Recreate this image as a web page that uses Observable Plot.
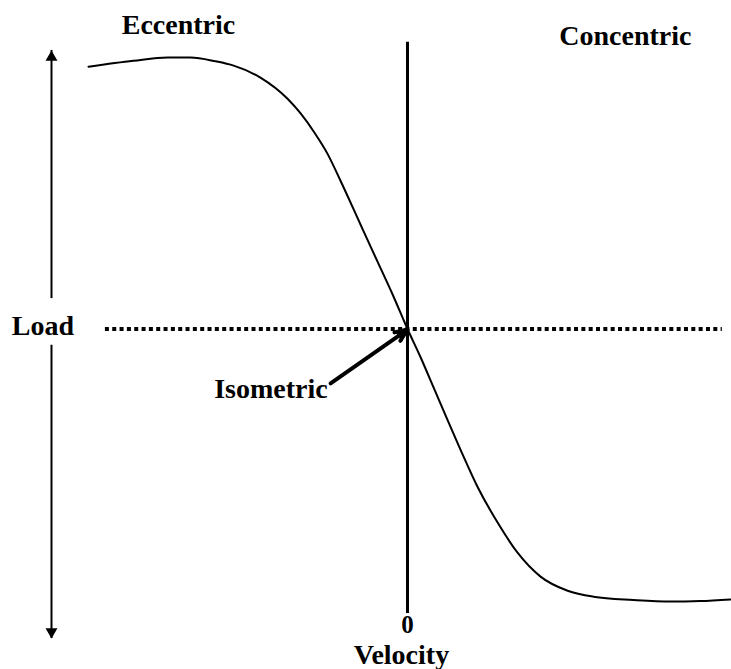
<!DOCTYPE html>
<html>
<head>
<meta charset="utf-8">
<script src="https://cdn.jsdelivr.net/npm/d3@7"></script>
<script src="https://cdn.jsdelivr.net/npm/@observablehq/plot@0.6"></script>
<style>
  html, body { margin: 0; padding: 0; background: #fff; }
  #chart svg { display: block; }
</style>
</head>
<body>
<div id="chart"></div>
<script>
// Force–velocity relationship (velocity: negative = eccentric, positive = concentric)
const velocity = [-1.000, -0.859, -0.752, -0.680, -0.602, -0.545, -0.461, -0.376, -0.335, -0.292,
                  -0.251, -0.210, -0.147, -0.094, -0.047, 0.000, 0.041, 0.082, 0.125, 0.166,
                  0.219, 0.282, 0.345, 0.417, 0.502, 0.583, 0.708, 0.824, 0.918, 1.013];
const load =     [0.983, 0.994, 1.000, 1.000, 0.993, 0.985, 0.963, 0.924, 0.897, 0.862,
                  0.823, 0.773, 0.692, 0.624, 0.564, 0.500, 0.448, 0.392, 0.333, 0.278,
                  0.210, 0.144, 0.088, 0.044, 0.018, 0.007, 0.001, -0.002, -0.001, 0.002];

const isometricLoad = 0.5;
const zeroVelocity = 0;
const phaseLabels = ["Eccentric", "Concentric"];
const phaseLabelV = [-0.718, 0.683];
const phaseLabelL = [1.059, 1.039];
const loadAxisV = -1.116;
const loadAxisTop = 1.013, loadAxisBottom = -0.070;
const loadAxisGap = [0.556, 0.470];
const isoPointer = {x1: -0.241, y1: 0.400, x2: 0, y2: 0.499};

const curve = velocity.map((v, i) => ({v, L: load[i]}));
const phases = phaseLabels.map((t, i) => ({t, v: phaseLabelV[i], L: phaseLabelL[i]}));

const font = "Liberation Serif, Times New Roman, serif";
const textStyle = {fontSize: 28, fontWeight: "bold", fill: "black", textAnchor: "middle"};

const chart = Plot.plot({
  width: 731,
  height: 669,
  margin: 0,
  x: {domain: [-1, 1], range: [88, 726], axis: null},
  y: {domain: [0, 1], range: [600, 57], axis: null},
  style: {fontFamily: font, background: "white"},
  marks: [
    // dotted isometric load line
    Plot.ruleY([isometricLoad], {x1: -0.947, x2: 0.987, stroke: "black", strokeWidth: 4, strokeDasharray: "4,3.33"}),
    // zero velocity line
    Plot.ruleX([zeroVelocity], {y1: 1.028, y2: -0.024, stroke: "black", strokeWidth: 3}),
    // load axis (double arrow, broken around the label)
    Plot.ruleX([{a: loadAxisTop, b: loadAxisGap[0]}, {a: loadAxisGap[1], b: loadAxisBottom}],
      {x: () => loadAxisV, y1: "a", y2: "b", stroke: "black", strokeWidth: 2}),
    Plot.dot([loadAxisTop], {x: () => loadAxisV, y: d => d, symbol: "triangle", r: 4.45, fill: "black", stroke: "none", dy: 6.9}),
    Plot.dot([loadAxisBottom], {x: () => loadAxisV, y: d => d, symbol: "triangle", r: 4.45, fill: "black", stroke: "none", rotate: 180, dy: -6.9}),
    // force-velocity curve
    Plot.line(curve, {x: "v", y: "L", curve: "monotone-x", stroke: "black", strokeWidth: 2}),
    // Isometric pointer
    Plot.arrow([isoPointer],
      {x1: "x1", y1: "y1", x2: "x2", y2: "y2", stroke: "black", strokeWidth: 4, headLength: 5, headAngle: 45}),
    Plot.dot([isoPointer], {x: "x2", y: "y2", symbol: "triangle", r: 4.9, fill: "black", stroke: "none",
      rotate: 55, dx: -6.1, dy: 4.3}),
    // labels
    Plot.text(phases, {x: "v", y: "L", text: "t", ...textStyle}),
    Plot.text(["Load"], {x: () => -1.143, y: () => 0.505, text: d => d, ...textStyle}),
    Plot.text(["Isometric"], {x: () => -0.428, y: () => 0.390, text: d => d, ...textStyle}),
    Plot.text(["0"], {x: () => zeroVelocity, y: () => -0.046, text: d => d, ...textStyle, fontSize: 25}),
    Plot.text(["Velocity"], {x: () => -0.019, y: () => -0.1004, text: d => d, ...textStyle})
  ]
});

document.getElementById("chart").appendChild(chart);
</script>
</body>
</html>
